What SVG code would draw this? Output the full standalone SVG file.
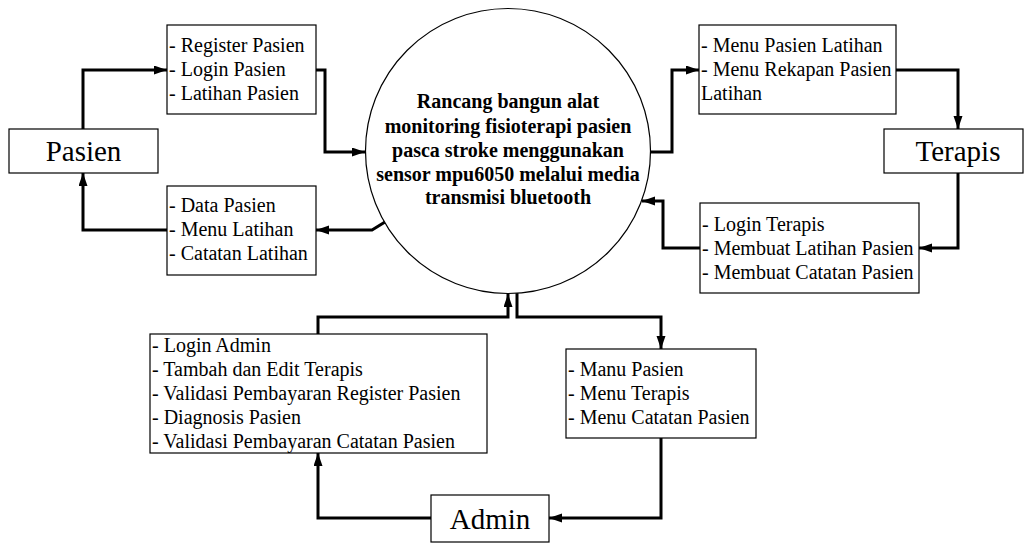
<svg xmlns="http://www.w3.org/2000/svg" width="1025" height="543" viewBox="0 0 1025 543">
<defs>
<style>
.box{fill:#fff;stroke:#000;stroke-width:1.2}
.t{font-family:"Liberation Serif","Times New Roman",serif;font-size:20px;fill:#000}
.big{font-family:"Liberation Serif","Times New Roman",serif;font-size:29px;fill:#000;text-anchor:middle}
.ct{font-family:"Liberation Serif","Times New Roman",serif;font-size:20px;font-weight:bold;fill:#000;text-anchor:middle}
.c{fill:none;stroke:#000;stroke-width:3;marker-end:url(#ah)}
</style>
<marker id="ah" markerUnits="userSpaceOnUse" markerWidth="14" markerHeight="10" refX="13" refY="4.5" orient="auto">
<path d="M0,0 L13,4.5 L0,9 z" fill="#000"/>
</marker>
</defs>
<rect width="1025" height="543" fill="#fff"/>
<g id="connectors">
<path class="c" d="M83,129 V70 H167"/>
<path class="c" d="M316,70 H325 V152 H365"/>
<path class="c" d="M385,222 L372,230 H316"/>
<path class="c" d="M167,230 H83 V173"/>
<path class="c" d="M650,152 H672 V70 H699"/>
<path class="c" d="M896,70 H958 V129"/>
<path class="c" d="M958,173 V248 H919"/>
<path class="c" d="M700,248 H663 V201 H642"/>
<path class="c" d="M318,334 V317 H508 V294"/>
<path class="c" d="M517,293 V317 H661 V349"/>
<path class="c" d="M661,438 V518 H549"/>
<path class="c" d="M431,518 H318 V453"/>
</g>
<g id="system">
<circle cx="508" cy="151" r="142.5" fill="#fff" stroke="#000" stroke-width="1.2"/>
<text class="ct"><tspan x="508" y="108">Rancang bangun alat</tspan><tspan x="508" y="133">monitoring fisioterapi pasien</tspan><tspan x="508" y="157">pasca stroke menggunakan</tspan><tspan x="508" y="181">sensor mpu6050 melalui media</tspan><tspan x="508" y="204">transmisi bluetooth</tspan></text>
</g>
<g id="pasien">
<rect class="box" x="9" y="129" width="149" height="44"/>
<text class="big" x="83.5" y="161">Pasien</text>
</g>
<g id="terapis">
<rect class="box" x="884" y="129" width="139" height="44"/>
<text class="big" x="958" y="161">Terapis</text>
</g>
<g id="admin">
<rect class="box" x="431" y="495" width="118" height="47"/>
<text class="big" x="490" y="529">Admin</text>
</g>
<g id="pasien-input">
<rect class="box" x="167" y="25" width="149" height="89"/>
<text class="t"><tspan x="169" y="52">- Register Pasien</tspan><tspan x="169" y="76">- Login Pasien</tspan><tspan x="169" y="100">- Latihan Pasien</tspan></text>
</g>
<g id="pasien-output">
<rect class="box" x="167" y="186" width="149" height="89"/>
<text class="t"><tspan x="169" y="212">- Data Pasien</tspan><tspan x="169" y="236">- Menu Latihan</tspan><tspan x="169" y="260">- Catatan Latihan</tspan></text>
</g>
<g id="terapis-output">
<rect class="box" x="699" y="25" width="197" height="89"/>
<text class="t"><tspan x="701" y="52">- Menu Pasien Latihan</tspan><tspan x="701" y="76">- Menu Rekapan Pasien</tspan><tspan x="701" y="100">Latihan</tspan></text>
</g>
<g id="terapis-input">
<rect class="box" x="700" y="203" width="219" height="90"/>
<text class="t"><tspan x="702" y="231">- Login Terapis</tspan><tspan x="702" y="255">- Membuat Latihan Pasien</tspan><tspan x="702" y="279">- Membuat Catatan Pasien</tspan></text>
</g>
<g id="admin-input">
<rect class="box" x="150" y="334" width="337" height="119"/>
<text class="t"><tspan x="152" y="352">- Login Admin</tspan><tspan x="152" y="376">- Tambah dan Edit Terapis</tspan><tspan x="152" y="400">- Validasi Pembayaran Register Pasien</tspan><tspan x="152" y="424">- Diagnosis Pasien</tspan><tspan x="152" y="448">- Validasi Pembayaran Catatan Pasien</tspan></text>
</g>
<g id="admin-output">
<rect class="box" x="566" y="349" width="190" height="89"/>
<text class="t"><tspan x="568" y="376">- Manu Pasien</tspan><tspan x="568" y="400">- Menu Terapis</tspan><tspan x="568" y="424">- Menu Catatan Pasien</tspan></text>
</g>
</svg>
